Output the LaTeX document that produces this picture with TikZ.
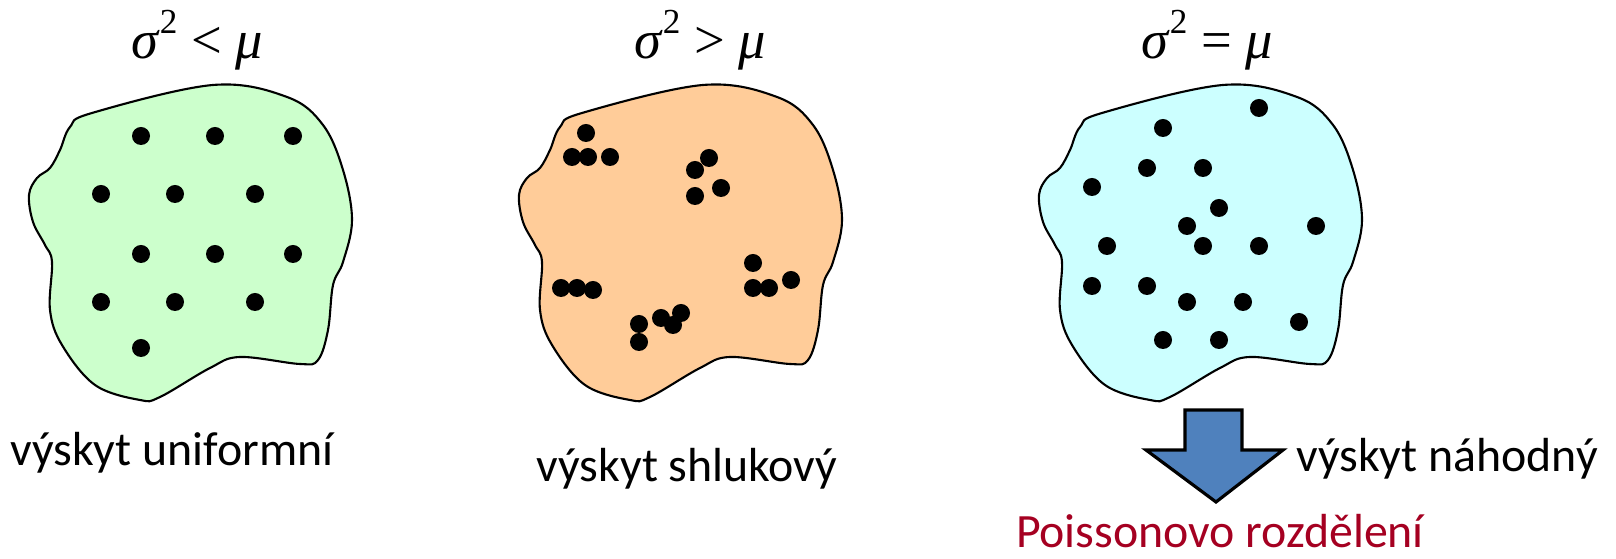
\documentclass[tikz,border=0pt]{standalone}
\usepackage{fontspec}
\setmainfont{Carlito}
\newfontfamily\tmfont{Liberation Serif}
\usepackage{xcolor}
\usepackage{tikz}
\usetikzlibrary{positioning}

\definecolor{zelena}{HTML}{CCFFCC}
\definecolor{oranzova}{HTML}{FFCC99}
\definecolor{azurova}{HTML}{CCFFFF}
\definecolor{modra}{HTML}{4F81BD}
\definecolor{cervena}{RGB}{165,0,33}

\tikzset{
  oblast/.style={draw=black, line width=0.6pt},
  popis/.style={font=\fontsize{13.6}{16}\selectfont, inner sep=0pt},
  titulek/.style={font=\tmfont\fontsize{15.5}{18}\selectfont, inner sep=0pt}
}

% obrys oblasti, posunuty o #1 px
\newcommand{\obrys}[2]{%
  \draw[oblast, fill=#2, xshift=#1*0.01cm] plot[smooth cycle, tension=0.6] coordinates {
    (213,85) (287,97) (323,125) (343,170) (352,220) (343,262) (333,285)
    (328,330) (318,360) (300,364) (240,357) (210,368) (160,397) (140,400)
    (95,385) (62,345) (50,310) (52,262) (45,245) (33,222) (29,195)
    (37,178) (50,168) (60,150) (70,127) (92,113)};
}

\begin{document}
\begin{tikzpicture}[x=0.01cm, y=-0.01cm]
    \useasboundingbox (0,0) rectangle (1616,559);

    % oblasti
    \obrys{0}{zelena}
    \obrys{490}{oranzova}
    \obrys{1010}{azurova}

    % uniformni
    \foreach \x/\y in {141/136, 215/136, 293/136, 101/194, 175/194, 255/194,
        141/254, 215/254, 293/254, 101/302, 175/302, 255/302, 141/348}
        \fill (\x,\y) circle (9);

    % shlukovy
    \foreach \x/\y in {586/133, 572/157, 588/157, 610/157, 709/158, 695/170,
        721/188, 695/196, 561/288, 577/288, 593/290, 753/263, 753/288,
        769/288, 791/280, 639/324, 639/342, 661/318, 673/325, 681/313}
        \fill (\x,\y) circle (9);

    % nahodny
    \foreach \x/\y in {1259/108, 1163/128, 1147/168, 1203/168, 1092/187,
        1219/208, 1187/226, 1316/226, 1107/246, 1203/246, 1259/246,
        1092/286, 1147/286, 1187/302, 1243/302, 1299/322, 1163/340, 1219/340}
        \fill (\x,\y) circle (9);

    % titulky
    \node[titulek] (t1) at (197,40) {\textit{σ}\raisebox{0.45em}{\fontsize{10}{12}\selectfont 2} < \textit{μ}};
    \node[titulek] (t2) at (700,40) {\textit{σ}\raisebox{0.45em}{\fontsize{10}{12}\selectfont 2} > \textit{μ}};
    \node[titulek] (t3) at (1207,40) {\textit{σ}\raisebox{0.45em}{\fontsize{10}{12}\selectfont 2} = \textit{μ}};

    % popisky
    \node[popis] (p1) at (172,453) {výskyt uniformní};
    \node[popis] (p2) at (687,469) {výskyt shlukový};
    \node[popis] (p3) at (1447,459) {výskyt náhodný};
    \node[popis, text=cervena] (p4) at (1220,531) {Poissonovo rozdělení};

    % sipka
    \draw[fill=modra, line width=0.9pt, line join=miter]
        (1185,410) -- (1242,410) -- (1242,450) -- (1283,450) -- (1216,502)
        -- (1146,450) -- (1185,450) -- cycle;
\end{tikzpicture}
\end{document}
